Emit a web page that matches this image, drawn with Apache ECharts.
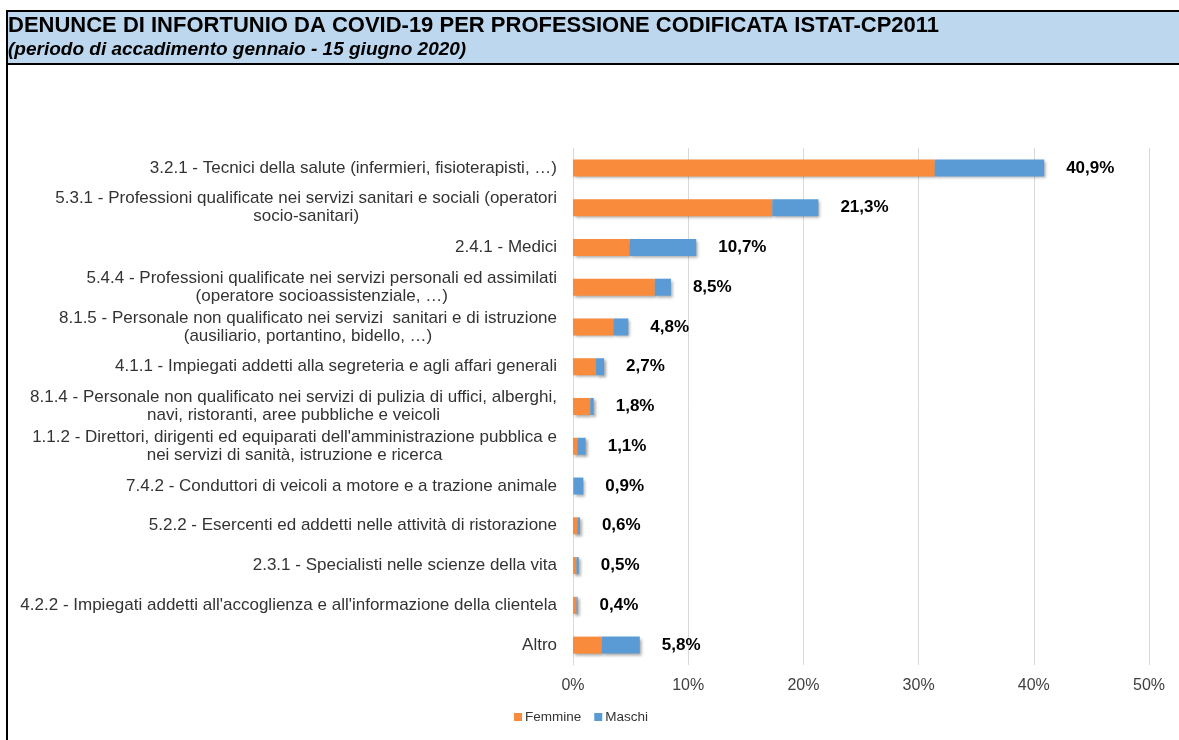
<!DOCTYPE html>
<html>
<head>
<meta charset="utf-8" />
<title>Denunce COVID-19 per professione</title>
<script src="https://cdn.jsdelivr.net/npm/echarts@6/dist/echarts.min.js"></script>
<style>
  html, body { margin: 0; padding: 0; background: #fff; }
  #chart { width: 1179px; height: 740px; }
</style>
</head>
<body>
<div id="chart"></div>
<script type="text/javascript">
// categorie (ordine dall'alto verso il basso)
var categories = [
  "3.2.1 - Tecnici della salute (infermieri, fisioterapisti, \u2026)",
  "5.3.1 - Professioni qualificate nei servizi sanitari e sociali (operatori\nsocio-sanitari)",
  "2.4.1 - Medici",
  "5.4.4 - Professioni qualificate nei servizi personali ed assimilati\n(operatore socioassistenziale, \u2026)",
  "8.1.5 - Personale non qualificato nei servizi  sanitari e di istruzione\n(ausiliario, portantino, bidello, \u2026)",
  "4.1.1 - Impiegati addetti alla segreteria e agli affari generali",
  "8.1.4 - Personale non qualificato nei servizi di pulizia di uffici, alberghi,\nnavi, ristoranti, aree pubbliche e veicoli",
  "1.1.2 - Direttori, dirigenti ed equiparati dell'amministrazione pubblica e\nnei servizi di sanit\u00e0, istruzione e ricerca",
  "7.4.2 - Conduttori di veicoli a motore e a trazione animale",
  "5.2.2 - Esercenti ed addetti nelle attivit\u00e0 di ristorazione",
  "2.3.1 - Specialisti nelle scienze della vita",
  "4.2.2 - Impiegati addetti all'accoglienza e all'informazione della clientela",
  "Altro"
];
// quote in % (stimate dal grafico)
var femmine = [31.4, 17.3, 4.9, 7.1, 3.5, 2.0, 1.5, 0.4, 0.05, 0.4, 0.3, 0.3, 2.5];
var maschi  = [9.5, 4.0, 5.8, 1.4, 1.3, 0.7, 0.3, 0.7, 0.85, 0.2, 0.2, 0.1, 3.3];
// totali riportati come etichette
var totali  = ["40,9%", "21,3%", "10,7%", "8,5%", "4,8%", "2,7%", "1,8%", "1,1%", "0,9%", "0,6%", "0,5%", "0,4%", "5,8%"];
var xTicks  = [0, 10, 20, 30, 40, 50];

var FONT = "'Liberation Sans', Arial, sans-serif";

var myChart = echarts.init(document.getElementById("chart"), null, { renderer: "canvas" });

var barShadow = {
  shadowColor: "rgba(0,0,0,0.35)",
  shadowBlur: 3,
  shadowOffsetX: 2,
  shadowOffsetY: 2
};

var option = {
  backgroundColor: "#fff",
  animation: false,
  textStyle: { fontFamily: FONT },
  graphic: [
    // fascia del titolo
    {
      type: "rect", z: -1,
      shape: { x: 7, y: 11, width: 1180, height: 53 },
      style: { fill: "#BDD7EE", stroke: "#000", lineWidth: 2 }
    },
    // bordo sinistro
    {
      type: "line", z: -1,
      shape: { x1: 7, y1: 11, x2: 7, y2: 740 },
      style: { stroke: "#000", lineWidth: 2 }
    }
  ],
  title: {
    left: 8,
    top: 15,
    itemGap: 3,
    padding: 0,
    text: "DENUNCE DI INFORTUNIO DA COVID-19 PER PROFESSIONE CODIFICATA ISTAT-CP2011",
    subtext: "(periodo di accadimento gennaio - 15 giugno 2020)",
    textStyle: { fontFamily: FONT, fontSize: 22, fontWeight: "bold", color: "#000" },
    subtextStyle: { fontFamily: FONT, fontSize: 19, fontWeight: "bold", fontStyle: "italic", color: "#000" }
  },
  legend: {
    left: 509,
    top: 705,
    itemWidth: 8,
    itemHeight: 8,
    itemGap: 13,
    icon: "rect",
    textStyle: { fontFamily: FONT, fontSize: 13.5, color: "#333", padding: [0, 0, 0, -2] },
    data: ["Femmine", "Maschi"]
  },
  grid: { left: 573, right: 30, top: 148, bottom: 75 },
  xAxis: {
    type: "value",
    min: 0,
    max: 50,
    interval: 10,
    axisLine: { show: false },
    axisTick: { show: false },
    splitLine: { lineStyle: { color: "#d9d9d9", width: 1 } },
    axisLabel: {
      margin: 13,
      fontFamily: FONT,
      fontSize: 16,
      color: "#404040",
      formatter: function (v) { return xTicks.indexOf(v) >= 0 ? v + "%" : ""; }
    }
  },
  yAxis: {
    type: "category",
    inverse: true,
    data: categories,
    axisLine: { show: true, lineStyle: { color: "#d9d9d9" } },
    axisTick: { show: false },
    axisLabel: {
      margin: 16,
      fontFamily: FONT,
      fontSize: 17,
      color: "#333",
      lineHeight: 18,
      formatter: function (v) {
        return v.split("\n").map(function (s) { return "{c|" + s + "}"; }).join("\n");
      },
      rich: {
        c: { align: "center", fontFamily: FONT, fontSize: 17, color: "#333", lineHeight: 18 }
      }
    }
  },
  series: [
    {
      name: "Femmine",
      type: "bar",
      stack: "tot",
      barWidth: 17,
      itemStyle: Object.assign({ color: "#F98B3C" }, barShadow),
      data: femmine
    },
    {
      name: "Maschi",
      type: "bar",
      stack: "tot",
      barWidth: 17,
      itemStyle: Object.assign({ color: "#5B9BD5" }, barShadow),
      label: {
        show: true,
        position: "right",
        distance: 22,
        fontFamily: FONT,
        fontSize: 17,
        fontWeight: "bold",
        color: "#000",
        formatter: function (p) { return totali[p.dataIndex]; }
      },
      data: maschi
    }
  ]
};

myChart.setOption(option);
</script>
</body>
</html>
